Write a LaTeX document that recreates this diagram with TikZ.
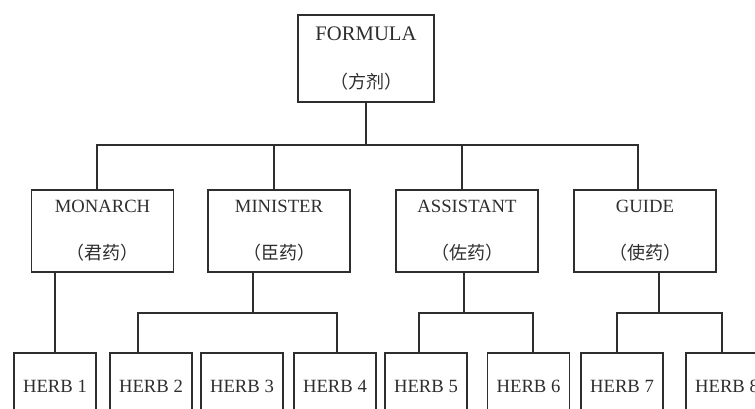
\documentclass[tikz,border=0pt]{standalone}
\usepackage{fontspec}
\setmainfont{Liberation Serif}
\newfontfamily\cjk{Noto Sans CJK SC}
\usetikzlibrary{calc}
\definecolor{ink}{HTML}{2E2E2E}
\newcommand{\zh}[1]{{\cjk\fontsize{13.5pt}{13.5pt}\selectfont #1}}
\begin{document}
\begin{tikzpicture}[x=0.75pt,y=-0.75pt,
  box/.style={draw=ink, line width=1.4pt, inner sep=0pt, text=ink, align=center,
              font=\fontsize{14pt}{35pt}\selectfont},
  topbox/.style={box, minimum width=102pt, minimum height=65.25pt,
                 font=\fontsize{15.5pt}{36pt}\selectfont},
  rolebox/.style={box, minimum width=106.5pt, minimum height=61.5pt},
  herbbox/.style={box, minimum width=61.5pt, minimum height=49.5pt},
  wire/.style={draw=ink, line width=1.4pt}]
\useasboundingbox (0,0) rectangle (755,409);
\clip (0,0) rectangle (755,409);
\fill[white] (0,0) rectangle (755,409);

\node[topbox] (formula) at (366,58.5) {FORMULA\\\zh{（方剂）}};

\node[rolebox] (monarch)   at (102.5,231) {MONARCH\\\zh{（君药）}};
\node[rolebox] (minister)  at (279,231)   {MINISTER\\\zh{（臣药）}};
\node[rolebox] (assistant) at (467,231)   {ASSISTANT\\\zh{（佐药）}};
\node[rolebox] (guide)     at (645,231)   {GUIDE\\\zh{（使药）}};

\node[herbbox] (herb1) at (55,386)    {HERB 1};
\node[herbbox] (herb2) at (151,386)   {HERB 2};
\node[herbbox] (herb3) at (242,386)   {HERB 3};
\node[herbbox] (herb4) at (335,386)   {HERB 4};
\node[herbbox] (herb5) at (426,386)   {HERB 5};
\node[herbbox] (herb6) at (528.5,386) {HERB 6};
\node[herbbox] (herb7) at (622,386)   {HERB 7};
\node[herbbox] (herb8) at (727,386)   {HERB 8};

\coordinate (bus1) at (0,145);
\coordinate (bus2) at (0,313);

% level 1 -> level 2
\coordinate (cm) at ($(monarch.north)+(-5.5,0)$);
\coordinate (ci) at ($(minister.north)+(-5,0)$);
\coordinate (ca) at ($(assistant.north)+(-5,0)$);
\coordinate (cg) at ($(guide.north)+(-7,0)$);
\draw[wire] (formula.south) -- (formula.south |- bus1);
\draw[wire] (cm) |- (cg |- bus1) -- (cg);
\draw[wire] (ci) -- (ci |- bus1);
\draw[wire] (ca) -- (ca |- bus1);

% level 2 -> herbs
\draw[wire] (herb1.north) -- (herb1.north |- monarch.south);

\coordinate (mi) at ($(minister.south)+(-26,0)$);
\coordinate (h2) at ($(herb2.north)+(-13,0)$);
\coordinate (h4) at ($(herb4.north)+(2,0)$);
\draw[wire] (mi) -- (mi |- bus2);
\draw[wire] (h2) |- (h4 |- bus2) -- (h4);

\coordinate (as) at ($(assistant.south)+(-3,0)$);
\coordinate (h5) at ($(herb5.north)+(-7,0)$);
\coordinate (h6) at ($(herb6.north)+(4.5,0)$);
\draw[wire] (as) -- (as |- bus2);
\draw[wire] (h5) |- (h6 |- bus2) -- (h6);

\coordinate (gs) at ($(guide.south)+(14,0)$);
\coordinate (h7) at ($(herb7.north)+(-5,0)$);
\coordinate (h8) at ($(herb8.north)+(-5,0)$);
\draw[wire] (gs) -- (gs |- bus2);
\draw[wire] (h7) |- (h8 |- bus2) -- (h8);
\end{tikzpicture}
\end{document}
